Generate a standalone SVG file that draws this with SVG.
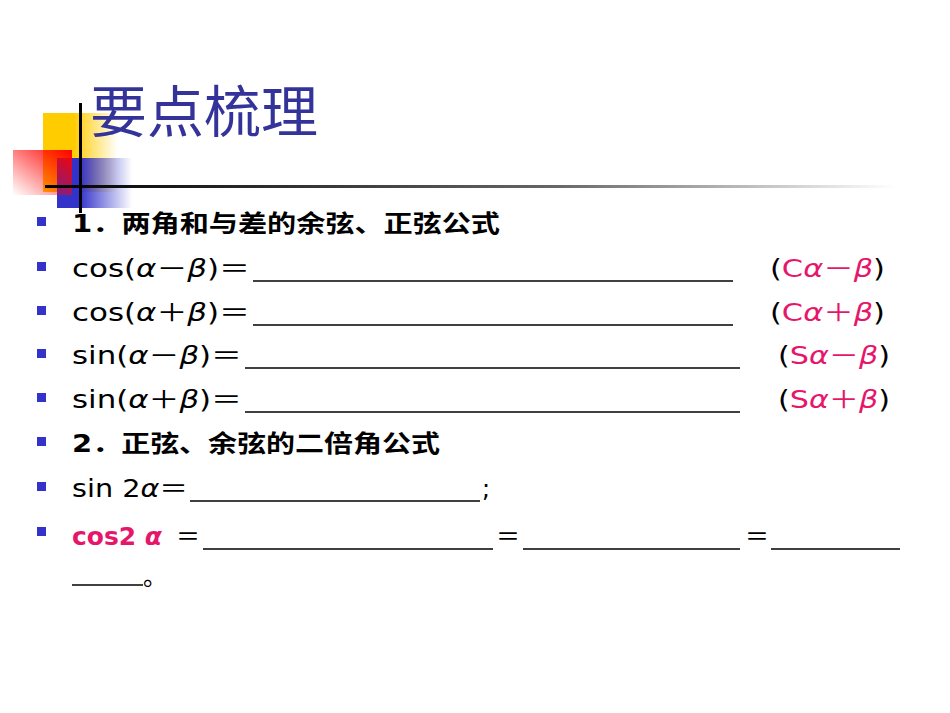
<svg xmlns="http://www.w3.org/2000/svg" width="950" height="713" viewBox="0 0 950 713">
<defs>
<linearGradient id="gy" x1="0" x2="1" y1="0" y2="0"><stop offset="0.4" stop-color="#ffcc00"/><stop offset="1" stop-color="#ffcc00" stop-opacity="0"/></linearGradient>
<linearGradient id="gr" x1="1" x2="0" y1="0" y2="1"><stop offset="0" stop-color="#ff0000"/><stop offset="1" stop-color="#ff0000" stop-opacity="0"/></linearGradient>
<linearGradient id="gb" x1="0" x2="1" y1="0" y2="0"><stop offset="0.3" stop-color="#3333cc"/><stop offset="1" stop-color="#3333cc" stop-opacity="0"/></linearGradient>
<linearGradient id="gl" x1="0" x2="1" y1="0" y2="0"><stop offset="0" stop-color="#000"/><stop offset="0.6" stop-color="#666"/><stop offset="1" stop-color="#fff"/></linearGradient>
</defs>
<style>
.t{font-family:"DejaVu Sans","Noto Sans CJK SC",sans-serif;font-size:24px;fill:#000}
.b{font-weight:bold}
.p{fill:#e6176b}
.i{font-style:italic}
.u{stroke:#000;stroke-width:1.3}
.bul{fill:#3333cc}
</style>
<rect width="950" height="713" fill="#fff"/>
<g id="decor">
<rect x="43" y="113" width="75" height="79" fill="url(#gy)"/>
<rect x="57" y="158" width="75" height="50" fill="url(#gb)"/>
<rect x="13" y="150" width="59" height="45" fill="url(#gr)"/>
<rect x="45" y="185" width="850" height="3" fill="url(#gl)"/>
<rect x="79" y="103" width="3" height="110" fill="#000"/>
</g>
<text x="90" y="132" font-family="'Noto Sans CJK SC',sans-serif" font-size="56" fill="#333399" textLength="228" lengthAdjust="spacingAndGlyphs">要点梳理</text>
<g id="bullets">
<rect class="bul" x="37" y="217" width="9" height="9"/>
<rect class="bul" x="37" y="262" width="9" height="9"/>
<rect class="bul" x="37" y="306" width="9" height="9"/>
<rect class="bul" x="37" y="349" width="9" height="9"/>
<rect class="bul" x="37" y="393" width="9" height="9"/>
<rect class="bul" x="37" y="437" width="9" height="9"/>
<rect class="bul" x="37" y="482" width="9" height="9"/>
<rect class="bul" x="37" y="527" width="9" height="9"/>
</g>
<text class="t b" x="72" y="232" textLength="428" lengthAdjust="spacingAndGlyphs">1．两角和与差的余弦、正弦公式</text>
<text class="t" x="72" y="277" textLength="178" lengthAdjust="spacingAndGlyphs">cos(<tspan class="i">α</tspan>－<tspan class="i">β</tspan>)＝</text>
<line class="u" x1="253" y1="281" x2="733" y2="281"/>
<text class="t" x="770" y="277" textLength="115" lengthAdjust="spacingAndGlyphs">(<tspan class="p">C<tspan class="i">α</tspan>－<tspan class="i">β</tspan></tspan>)</text>
<text class="t" x="72" y="321" textLength="178" lengthAdjust="spacingAndGlyphs">cos(<tspan class="i">α</tspan>＋<tspan class="i">β</tspan>)＝</text>
<line class="u" x1="253" y1="325" x2="733" y2="325"/>
<text class="t" x="770" y="321" textLength="115" lengthAdjust="spacingAndGlyphs">(<tspan class="p">C<tspan class="i">α</tspan>＋<tspan class="i">β</tspan></tspan>)</text>
<text class="t" x="72" y="364" textLength="170" lengthAdjust="spacingAndGlyphs">sin(<tspan class="i">α</tspan>－<tspan class="i">β</tspan>)＝</text>
<line class="u" x1="245" y1="368" x2="740" y2="368"/>
<text class="t" x="778" y="364" textLength="112" lengthAdjust="spacingAndGlyphs">(<tspan class="p">S<tspan class="i">α</tspan>－<tspan class="i">β</tspan></tspan>)</text>
<text class="t" x="72" y="408" textLength="170" lengthAdjust="spacingAndGlyphs">sin(<tspan class="i">α</tspan>＋<tspan class="i">β</tspan>)＝</text>
<line class="u" x1="245" y1="412" x2="740" y2="412"/>
<text class="t" x="778" y="408" textLength="112" lengthAdjust="spacingAndGlyphs">(<tspan class="p">S<tspan class="i">α</tspan>＋<tspan class="i">β</tspan></tspan>)</text>
<text class="t b" x="72" y="452" textLength="368" lengthAdjust="spacingAndGlyphs">2．正弦、余弦的二倍角公式</text>
<text class="t" x="72" y="497" textLength="116" lengthAdjust="spacingAndGlyphs">sin 2<tspan class="i">α</tspan>＝</text>
<line class="u" x1="190" y1="501" x2="480" y2="501"/>
<text class="t" x="482" y="497">;</text>
<text class="t b p" x="72" y="545" textLength="90" lengthAdjust="spacingAndGlyphs">cos2 <tspan class="i">α</tspan></text>
<text class="t" x="176" y="545" textLength="24" lengthAdjust="spacingAndGlyphs">＝</text>
<line class="u" x1="203" y1="549" x2="493" y2="549"/>
<text class="t" x="496" y="545">＝</text>
<line class="u" x1="523" y1="549" x2="740" y2="549"/>
<text class="t" x="745" y="545">＝</text>
<line class="u" x1="771" y1="549" x2="900" y2="549"/>
<line class="u" x1="72" y1="585" x2="143" y2="585"/>
<text class="t" x="143" y="585">。</text>
</svg>
